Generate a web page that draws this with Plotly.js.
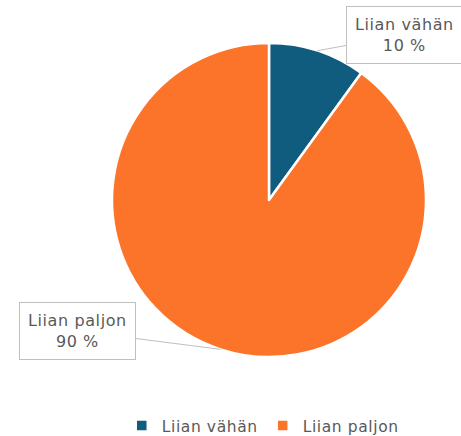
<!DOCTYPE html>
<html>
<head>
<meta charset="utf-8">
<script src="https://cdn.plot.ly/plotly-3.0.1.min.js"></script>
<style>
  html, body { margin: 0; padding: 0; background: #fff; }
  #chart { width: 461px; height: 436px; }
  .annotation-text, .legendtext { letter-spacing: 0.6px; }
</style>
</head>
<body>
<div id="chart"></div>
<script>
const categories = ["Liian vähän", "Liian paljon"];
const values = [10, 90];
const colors = ["#0F5C7E", "#FB7429"];

const W = 461, H = 436, B = 60;      // bottom margin reserved for the legend
const PH = H - B;                    // plot-area height
const cx = 269, cy = 200, R = 157;
const domX = [(cx - R) / W, (cx + R) / W];
const domY = [(PH - (cy + R)) / PH, (PH - (cy - R)) / PH];

// label box centres (pixels) and the slice mid-angle anchor on the rim
const labelPos = [[404, 35], [77, 331]];
const total = values.reduce((a, b) => a + b, 0);
let cum = 0;
const annotations = values.map((v, i) => {
  const mid = (cum + v / 2) / total * 2 * Math.PI;
  cum += v;
  const px = cx + R * Math.sin(mid);
  const py = cy - R * Math.cos(mid);
  return {
    xref: "paper", yref: "paper",
    x: px / W, y: (PH - py) / PH,
    ax: labelPos[i][0] - px, ay: labelPos[i][1] - py,
    axref: "pixel", ayref: "pixel",
    text: categories[i] + "<br>" + Math.round(v / total * 100) + " %",
    showarrow: true, arrowhead: 0, arrowwidth: 1, arrowcolor: "#BFBFBF",
    bordercolor: "#BFBFBF", borderwidth: 1, borderpad: 8,
    bgcolor: "#FFFFFF",
    font: { family: "DejaVu Sans, sans-serif", size: 16, color: "#595959" },
    align: "center"
  };
});

const data = [{
  type: "pie",
  labels: categories,
  values: values,
  sort: false,
  direction: "clockwise",
  rotation: 0,
  textinfo: "none",
  hoverinfo: "label+percent",
  marker: { colors: colors, line: { color: "#FFFFFF", width: 2.5 } },
  domain: { x: domX, y: domY }
}];

const layout = {
  width: W, height: H,
  margin: { l: 0, r: 0, t: 0, b: B, autoexpand: false },
  paper_bgcolor: "#FFFFFF",
  showlegend: true,
  legend: {
    orientation: "h", xref: "container", yref: "container",
    x: 0.57, xanchor: "center", y: 10 / H, yanchor: "middle",
    font: { family: "DejaVu Sans, sans-serif", size: 15.5, color: "#595959" },
    itemwidth: 30, tracegroupgap: 0
  },
  annotations: annotations
};

Plotly.newPlot("chart", data, layout, { displayModeBar: false, staticPlot: true });
</script>
</body>
</html>
